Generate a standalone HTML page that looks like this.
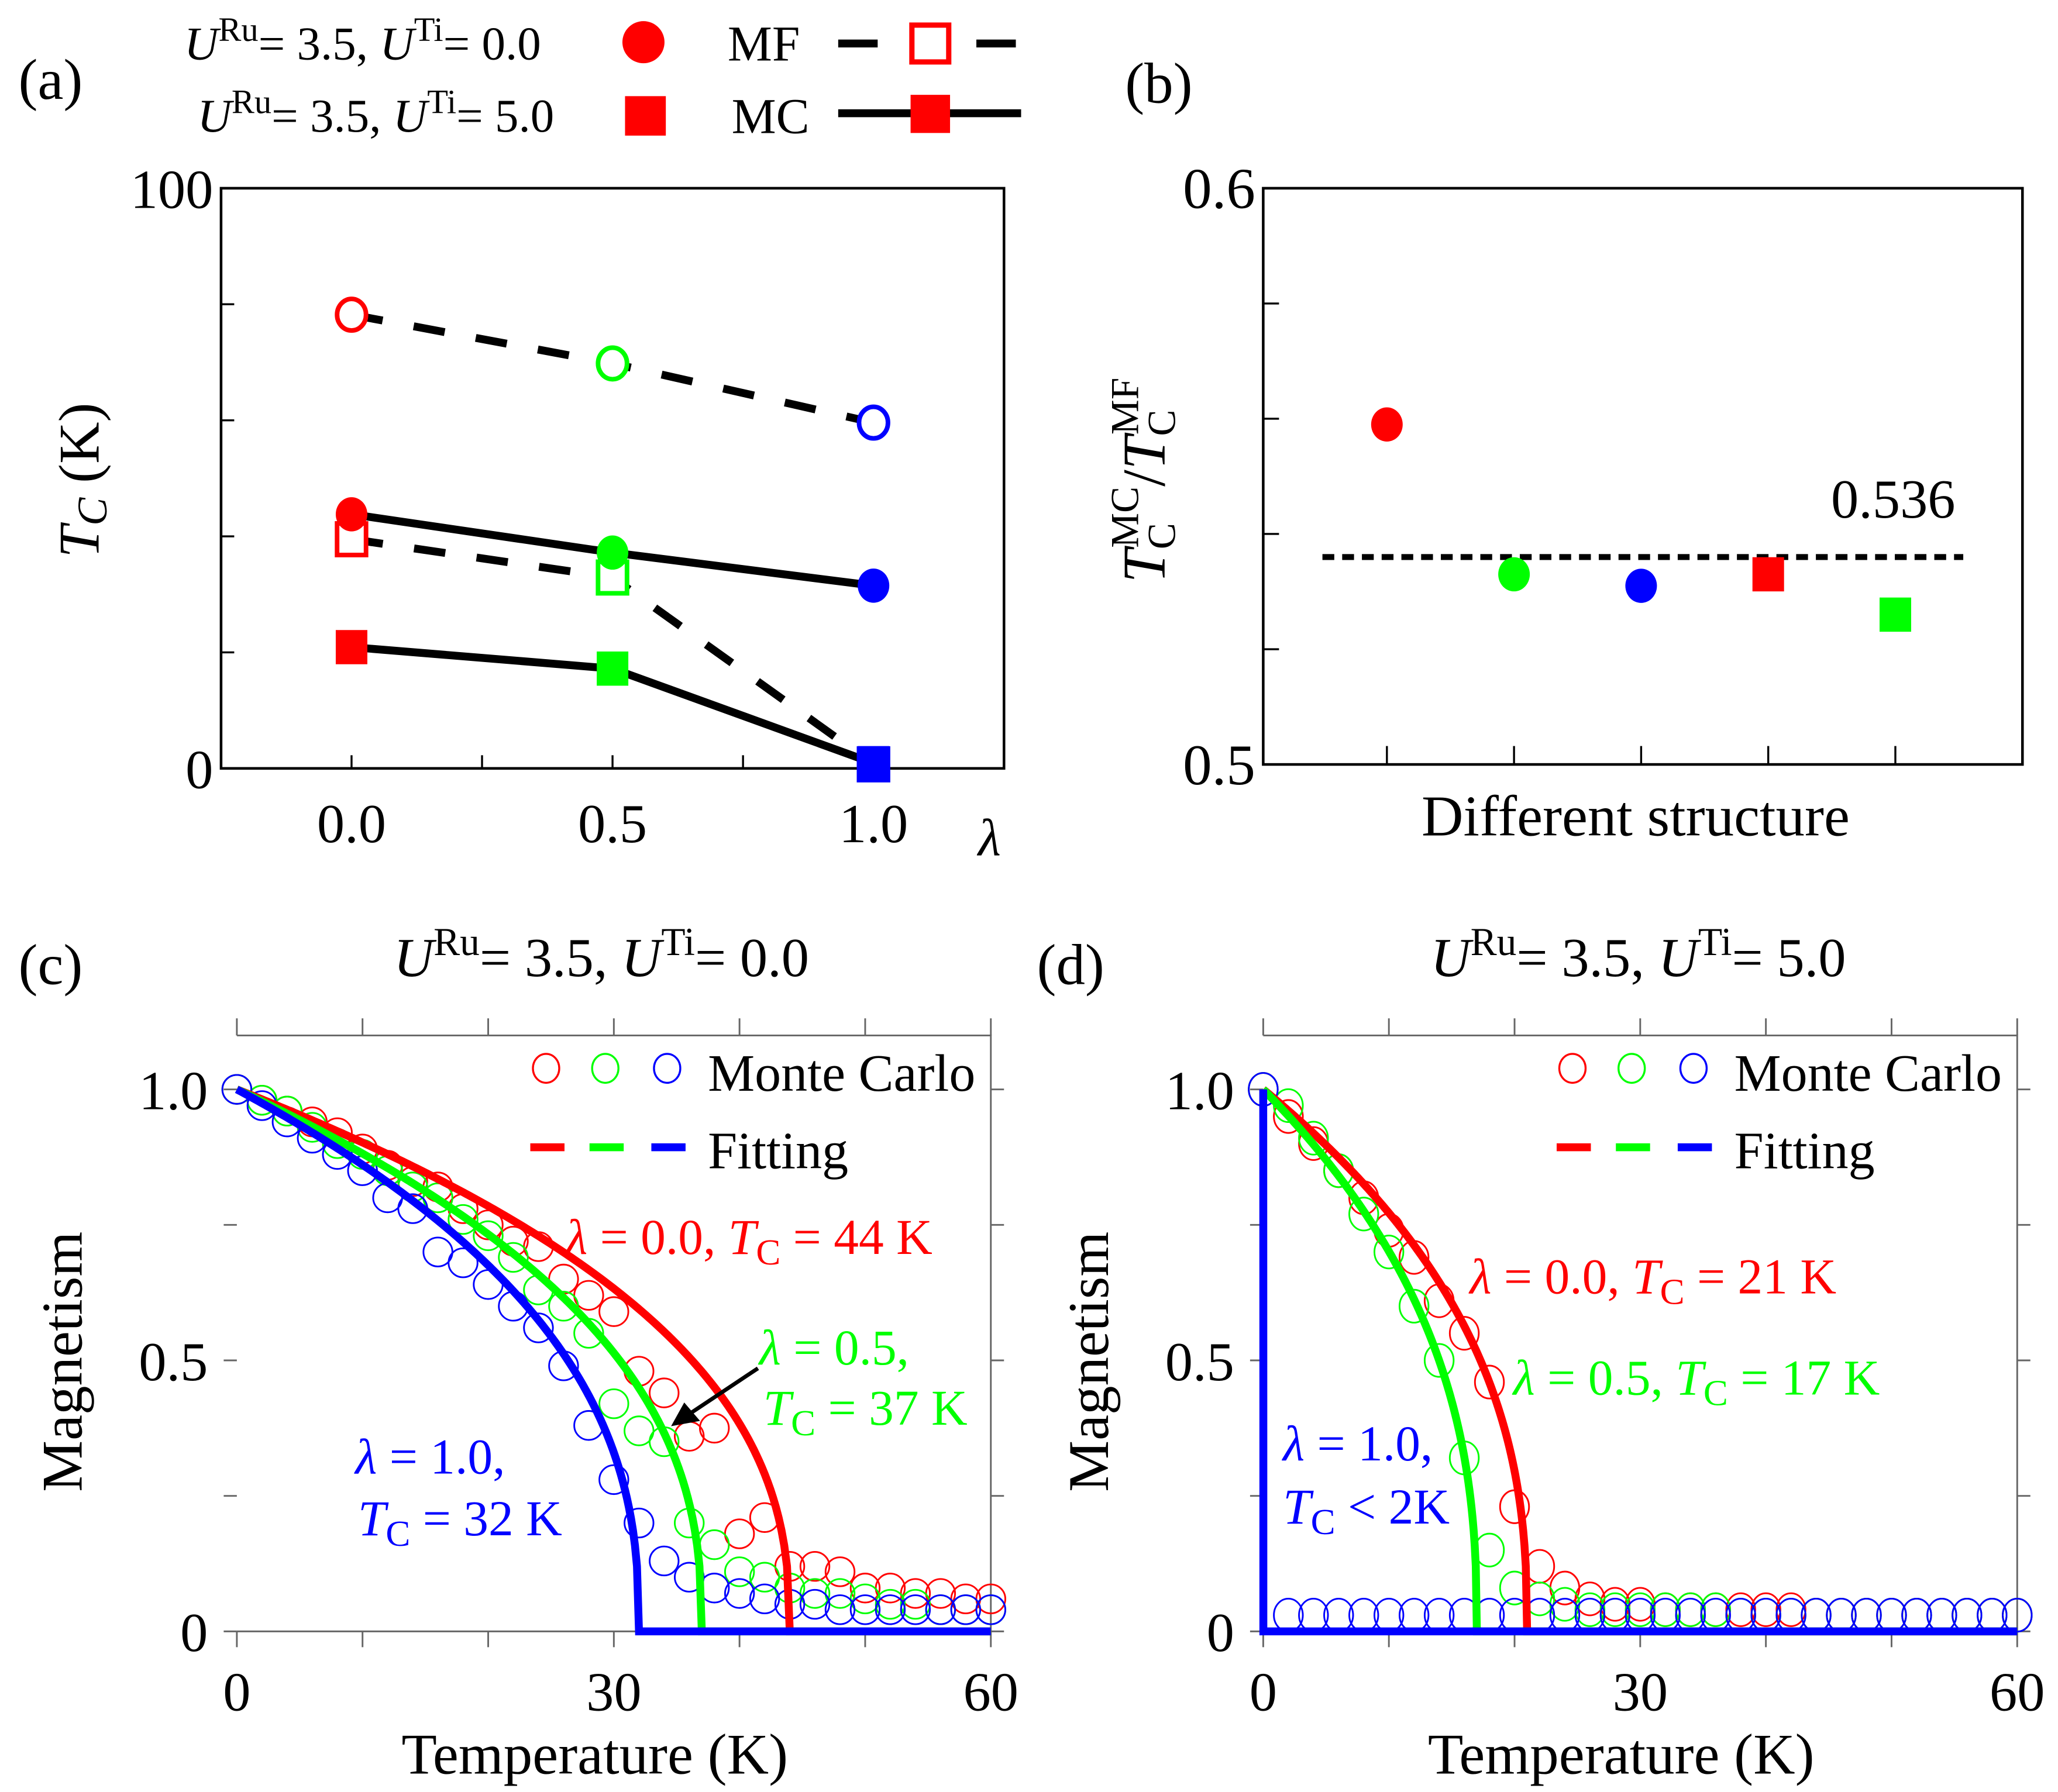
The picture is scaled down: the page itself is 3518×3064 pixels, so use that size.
<!DOCTYPE html>
<html><head><meta charset="utf-8"><style>
html,body{margin:0;padding:0;background:#fff}
svg{display:block}
svg text{font-family:"Liberation Serif","Times New Roman",serif !important}
</style></head><body>
<svg id="fig" width="3518" height="3064" viewBox="0 0 1564 1362" xmlns="http://www.w3.org/2000/svg" font-family="Liberation Serif, serif">
<g id="gA"></g>
<g id="gB"></g>
<g id="gC"></g>
<g id="gD"></g>
<g font-size="40">
<text x="14" y="75" font-size="44">(a)</text>
<text x="855" y="78" font-size="44">(b)</text>
<text x="14" y="748" font-size="44">(c)</text>
<text x="788" y="748" font-size="44">(d)</text>
<text x="140" y="45" font-size="36"><tspan font-style="italic">U</tspan><tspan dy="-14" font-size="26">Ru</tspan><tspan dy="14">= 3.5, </tspan><tspan font-style="italic">U</tspan><tspan dy="-14" font-size="26">Ti</tspan><tspan dy="14">= 0.0</tspan></text>
<text x="150" y="100" font-size="36"><tspan font-style="italic">U</tspan><tspan dy="-14" font-size="26">Ru</tspan><tspan dy="14">= 3.5, </tspan><tspan font-style="italic">U</tspan><tspan dy="-14" font-size="26">Ti</tspan><tspan dy="14">= 5.0</tspan></text>
<circle cx="489" cy="32" r="16" fill="#f00"/>
<rect x="475" y="73" width="31" height="30" fill="#f00"/>
<text x="553" y="46" font-size="38">MF</text>
<text x="556" y="101" font-size="38">MC</text>
<line x1="637" y1="33" x2="667" y2="33" stroke="#000" stroke-width="6"/>
<line x1="742" y1="33" x2="772" y2="33" stroke="#000" stroke-width="6"/>
<rect x="693" y="19" width="28" height="28" fill="#fff" stroke="#f00" stroke-width="4"/>
<line x1="637" y1="86" x2="776" y2="86" stroke="#000" stroke-width="6"/>
<rect x="692" y="72" width="30" height="29" fill="#f00"/>
</g>
</svg>
<script>
const NS="http://www.w3.org/2000/svg";
function mk(parent,tag,attrs){const e=document.createElementNS(NS,tag);for(const k in attrs)e.setAttribute(k,attrs[k]);parent.appendChild(e);return e;}

// ---------- Panel (a) data ----------
const lambdaVals=[0.0,0.5,1.0];
const mfCircle=[78.2,69.8,59.6];
const mcCircle=[43.8,37.2,31.5];
const mfSquare=[39.5,32.9,0.7];
const mcSquare=[20.9,17.2,0.9];
const aYTicks=[0,20,40,60,80,100];
const aYTickLabels=["0","","","","","100"];
const aXTicks=[0,0.25,0.5,0.75,1.0];
const aXTickLabels=["0.0","0.5","1.0"];
const ptColors=["#f00","#0f0","#00f"];

// ---------- Panel (b) data ----------
const bCats=[1,2,3,4,5];
const bRatio=[0.559,0.533,0.531,0.533,0.526];
const bShape=["circle","circle","circle","square","square"];
const bColor=["#f00","#0f0","#00f","#f00","#0f0"];
const bMean=0.536;
const bYTicks=[0.5,0.52,0.54,0.56,0.58,0.6];

// ---------- Panel (c)/(d) data ----------
const temps=[0,2,4,6,8,10,12,14,16,18,20,22,24,26,28,30,32,34,36,38,40,42,44,46,48,50,52,54,56,58,60];
const cRed=[1.0,0.98,0.96,0.94,0.92,0.89,0.86,0.83,0.82,0.78,0.75,0.72,0.71,0.65,0.62,0.59,0.48,0.44,0.36,0.375,0.18,0.21,0.12,0.12,0.11,0.08,0.08,0.07,0.07,0.06,0.06];
const cGreen=[1.0,0.98,0.96,0.93,0.90,0.88,0.85,0.82,0.80,0.76,0.73,0.69,0.63,0.60,0.55,0.42,0.37,0.35,0.20,0.16,0.11,0.10,0.08,0.07,0.07,0.06,0.05,0.05,0.04,0.04,0.04];
const cBlue=[1.0,0.97,0.94,0.91,0.88,0.85,0.80,0.78,0.70,0.68,0.64,0.60,0.56,0.49,0.38,0.28,0.20,0.13,0.10,0.08,0.07,0.06,0.05,0.05,0.04,0.04,0.04,0.04,0.04,0.04,0.04];
const dRed=[1.0,0.95,0.90,0.85,0.80,0.74,0.69,0.61,0.55,0.46,0.23,0.12,0.08,0.06,0.05,0.05,0.04,0.04,0.04,0.04,0.04,0.04,0.03,0.03,0.03,0.03,0.03,0.03,0.03,0.03,0.03];
const dGreen=[1.0,0.97,0.91,0.85,0.77,0.70,0.60,0.50,0.32,0.15,0.08,0.06,0.05,0.04,0.04,0.04,0.04,0.04,0.04,0.03,0.03,0.03,0.03,0.03,0.03,0.03,0.03,0.03,0.03,0.03,0.03];
const dBlue=[1.0,0.03,0.03,0.03,0.03,0.03,0.03,0.03,0.03,0.03,0.03,0.03,0.03,0.03,0.03,0.03,0.03,0.03,0.03,0.03,0.03,0.03,0.03,0.03,0.03,0.03,0.03,0.03,0.03,0.03,0.03];
const cTc=[44,37,32];
const dTc=[21,17,0.01];
const fitBeta=[0.4,0.4,0.4];
const mXTicks=[0,10,20,30,40,50,60];
const mXTickLabels=["0","30","60"];
const mYTicks=[0,0.25,0.5,0.75,1.0];
const mYTickLabels=["0","0.5","1.0"];

// ---------- Panel (a) ----------
(function(){
 const g=document.getElementById('gA');
 const L=168,R=763,T=143,B=584;
 const x=v=>L+(v+0.25)/1.5*(R-L), y=v=>B-v/100*(B-T);
 let e=mk(g,'rect',{x:L,y:T,width:R-L,height:B-T,fill:'none',stroke:'#000','stroke-width':2});
 
 
 aYTicks.forEach((t,i)=>{ if(t>0&&t<100){e=mk(g,'line',{x1:L,x2:L+10,y1:y(t),y2:y(t),stroke:'#000','stroke-width':1.5});}
  if(aYTickLabels[i]){e=mk(g,'text',{x:L-6,y:y(t)+15,'font-size':42,'text-anchor':'end'});e.textContent=aYTickLabels[i];}});
 aXTicks.forEach(t=>{e=mk(g,'line',{x1:x(t),x2:x(t),y1:B,y2:B-10,stroke:'#000','stroke-width':1.5});});
 lambdaVals.forEach((l,i)=>{e=mk(g,'text',{x:x(l),y:B+56,'font-size':42,'text-anchor':'middle'});e.textContent=aXTickLabels[i];});
 e=mk(g,'text',{x:752,y:650,'font-size':40,'font-style':'italic','text-anchor':'middle'});e.textContent='λ';
 e=mk(g,'text',{x:0,y:0,'font-size':44,'text-anchor':'middle',transform:'translate(75,365) rotate(-90)'});
 e.innerHTML='<tspan font-style="italic">T</tspan><tspan font-style="italic" font-size="32" dy="6">C</tspan><tspan dy="-6"> (K)</tspan>';
 
 function line(arr,dash,name){const pts=lambdaVals.map((l,i)=>x(l)+','+y(arr[i])).join(' ');
  e=mk(g,'polyline',{points:pts,fill:'none',stroke:'#000','stroke-width':6,'stroke-dasharray':dash?'24,24':'none'});}
 line(mfCircle,true,'mf-circle-line');line(mfSquare,true,'mf-square-line');line(mcCircle,false,'mc-circle-line');line(mcSquare,false,'mc-square-line');
 lambdaVals.forEach((l,i)=>{
  e=mk(g,'ellipse',{cx:x(l),cy:y(mfCircle[i]),rx:11,ry:12,fill:'#fff',stroke:ptColors[i],'stroke-width':3.5});
  e=mk(g,'rect',{x:x(l)-11,y:y(mfSquare[i])-12,width:22,height:24,fill:'#fff',stroke:ptColors[i],'stroke-width':3.5});
  e=mk(g,'ellipse',{cx:x(l),cy:y(mcCircle[i]),rx:12,ry:13,fill:ptColors[i]});
  e=mk(g,'rect',{x:x(l)-12,y:y(mcSquare[i])-13,width:24,height:26,fill:ptColors[i]});
 });
})();

// ---------- Panel (b) ----------
(function(){
 const g=document.getElementById('gB');
 const L=960,R=1537,T=143,B=581;
 const x=c=>1054+(c-1)*96.6, y=v=>B-(v-0.5)/0.1*(B-T);
 let e=mk(g,'rect',{x:L,y:T,width:R-L,height:B-T,fill:'none',stroke:'#000','stroke-width':2});
 
 bYTicks.forEach(t=>{ if(t>0.501&&t<0.599){e=mk(g,'line',{x1:L,x2:L+12,y1:y(t),y2:y(t),stroke:'#000','stroke-width':1.5});}});
 [[0.5,'0.5'],[0.6,'0.6']].forEach(p=>{e=mk(g,'text',{x:L-6,y:y(p[0])+15,'font-size':44,'text-anchor':'end'});e.textContent=p[1];});
 bCats.forEach(c=>{e=mk(g,'line',{x1:x(c),x2:x(c),y1:B,y2:B-14,stroke:'#000','stroke-width':1.5});});
 e=mk(g,'line',{x1:1005,x2:1492,y1:y(bMean),y2:y(bMean),stroke:'#000','stroke-width':4.5,'stroke-dasharray':'9,6'});
 e=mk(g,'text',{x:1486,y:y(bMean)-30,'font-size':42,'text-anchor':'end'});e.textContent=bMean.toFixed(3);
 bCats.forEach((c,i)=>{
  if(bShape[i]==='circle'){e=mk(g,'ellipse',{cx:x(c),cy:y(bRatio[i]),rx:12,ry:13,fill:bColor[i]});}
  else{e=mk(g,'rect',{x:x(c)-12,y:y(bRatio[i])-13,width:24,height:26,fill:bColor[i]});}
  
 });
 e=mk(g,'text',{x:1243,y:635,'font-size':44,'text-anchor':'middle'});e.textContent='Different structure';
 e=mk(g,'text',{x:0,y:0,'font-size':46,'text-anchor':'middle',transform:'translate(885,365) rotate(-90)'});
 e.innerHTML='<tspan font-style="italic">T</tspan><tspan font-size="30" dy="8">C</tspan><tspan font-size="30" dx="-19" dy="-28">MC</tspan><tspan dy="20">/</tspan><tspan font-style="italic">T</tspan><tspan font-size="30" dy="8">C</tspan><tspan font-size="30" dx="-19" dy="-28">MF</tspan>';
 
})();

// ---------- Panels (c)/(d) ----------
function magPanel(gid,L,series,tcs,title,titleX,pref,ry){
 const g=document.getElementById(gid);
 const R=L+573,B=1240,T=787;
 const x=t=>L+t/60*(R-L), y=m=>B-m/1.0*412;
 let e;
 e=mk(g,'polyline',{points:`${L},${B} ${R},${B} ${R},${T} ${L},${T}`,fill:'none',stroke:'#666','stroke-width':1.3});
 mXTicks.forEach(t=>{e=mk(g,'line',{x1:x(t),x2:x(t),y1:B,y2:B+12,stroke:'#666','stroke-width':1.3});
  e=mk(g,'line',{x1:x(t),x2:x(t),y1:T,y2:T-13,stroke:'#666','stroke-width':1.3});});
 mYTicks.forEach(t=>{e=mk(g,'line',{x1:L-10,x2:L,y1:y(t),y2:y(t),stroke:'#666','stroke-width':1.3});
  e=mk(g,'line',{x1:R,x2:R+10,y1:y(t),y2:y(t),stroke:'#666','stroke-width':1.3});});
 [0,30,60].forEach((t,i)=>{e=mk(g,'text',{x:x(t),y:1300,'font-size':42,'text-anchor':'middle'});e.textContent=mXTickLabels[i];});
 [0,0.5,1.0].forEach((t,i)=>{e=mk(g,'text',{x:L-22,y:y(t)+15,'font-size':42,'text-anchor':'end'});e.textContent=mYTickLabels[i];});
 e=mk(g,'text',{x:L+272,y:1348,'font-size':44,'text-anchor':'middle'});e.textContent='Temperature (K)';
 e=mk(g,'text',{x:0,y:0,'font-size':44,'text-anchor':'middle',transform:`translate(${L-118},1035) rotate(-90)`});e.textContent='Magnetism';
 e=mk(g,'text',{x:titleX,y:742,'font-size':42,'text-anchor':'middle'});
 e.innerHTML='<tspan font-style="italic">U</tspan><tspan dy="-16" font-size="30">Ru</tspan><tspan dy="16">= 3.5, </tspan><tspan font-style="italic">U</tspan><tspan dy="-16" font-size="30">Ti</tspan><tspan dy="16">= '+title+'</tspan>';
 
 series.forEach((s,k)=>{temps.forEach((t,i)=>{e=mk(g,'ellipse',{cx:x(t),cy:y(s[i]),rx:11,ry:ry,fill:'none',stroke:ptColors[k],'stroke-width':1.3});});});
 tcs.forEach((tc,k)=>{let pts=[];const n=200;for(let j=0;j<=n;j++){const t=tc*j/n;pts.push(x(t)+','+y(Math.pow(Math.max(0,1-t/tc),fitBeta[k])));}
  pts.push(x(60)+','+y(0));
  e=mk(g,'polyline',{points:pts.join(' '),fill:'none',stroke:ptColors[k],'stroke-width':6});});
 const lx=[L+235,L+280,L+327];
 lx.forEach((cx,k)=>{e=mk(g,'ellipse',{cx:cx,cy:812,rx:10,ry:11,fill:'none',stroke:ptColors[k],'stroke-width':1.5});
  e=mk(g,'line',{x1:cx-12,x2:cx+14,y1:872,y2:872,stroke:ptColors[k],'stroke-width':6});});
 e=mk(g,'text',{x:L+358,y:829,'font-size':40});e.textContent='Monte Carlo';
 e=mk(g,'text',{x:L+358,y:888,'font-size':40});e.textContent='Fitting';
 return g;
}
function ann(g,xx,yy,color,html,name){const e=mk(g,'text',{x:xx,y:yy,'font-size':38,fill:color});e.innerHTML=html;}
const TC=(v)=>'<tspan font-style="italic">T</tspan><tspan font-size="28" dy="8">C</tspan><tspan dy="-8"> = '+v+'</tspan>';
const gc=magPanel('gC',180,[cRed,cGreen,cBlue],cTc,'0.0',457,'c',11);
ann(gc,430,953,'#f00','<tspan font-style="italic">λ</tspan> = 0.0, '+TC(cTc[0]+' K'),'c-annot-red');
ann(gc,577,1037,'#0f0','<tspan font-style="italic">λ</tspan> = 0.5,','c-annot-green-1');
ann(gc,580,1083,'#0f0',TC(cTc[1]+' K'),'c-annot-green-2');
ann(gc,270,1120,'#00f','<tspan font-style="italic">λ</tspan> = 1.0,','c-annot-blue-1');
ann(gc,272,1167,'#00f',TC(cTc[2]+' K'),'c-annot-blue-2');
let ar=mk(gc,'line',{x1:576,y1:1040,x2:522,y2:1076,stroke:'#000','stroke-width':3});


ar=mk(gc,'polygon',{points:'510,1084 520,1066 532,1080',fill:'#000'});


const gd=magPanel('gD',960,[dRed,dGreen,dBlue],dTc,'5.0',1245,'d',12.5);
ann(gd,1117,983,'#f00','<tspan font-style="italic">λ</tspan> = 0.0, '+TC(dTc[0]+' K'),'d-annot-red');
ann(gd,1150,1060,'#0f0','<tspan font-style="italic">λ</tspan> = 0.5, '+TC(dTc[1]+' K'),'d-annot-green');
ann(gd,975,1110,'#00f','<tspan font-style="italic">λ</tspan> = 1.0,','d-annot-blue-1');
ann(gd,975,1158,'#00f','<tspan font-style="italic">T</tspan><tspan font-size="28" dy="8">C</tspan><tspan dy="-8"> &lt; 2K</tspan>','d-annot-blue-2');
</script>
</body></html>
